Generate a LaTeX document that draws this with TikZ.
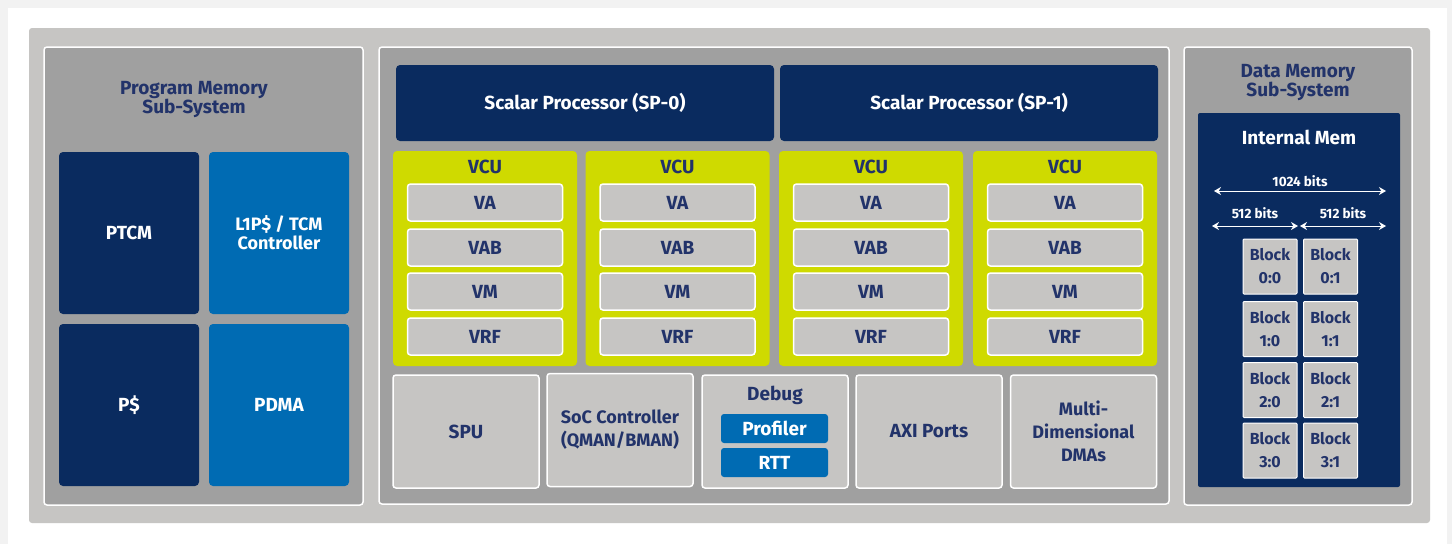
\documentclass[tikz,border=0pt]{standalone}
\usepackage{fontspec}
\setmainfont{Fira Sans}
\usetikzlibrary{arrows.meta}

\definecolor{outergray}{HTML}{C6C5C3}
\definecolor{panelgray}{HTML}{A0A0A0}
\definecolor{navy}{HTML}{0A2B5F}
\definecolor{ceblue}{HTML}{006BB3}
\definecolor{lime}{HTML}{CFDA00}
\definecolor{ink}{HTML}{22336A}

\begin{document}
\begin{tikzpicture}
	[x=1pt,y=-1pt,
		every node/.style={font=\fontsize{19}{20}\selectfont\bfseries,align=center,inner sep=0pt,text=ink},
		panel/.style={draw=white,line width=1.5pt,fill=panelgray,rounded corners=3pt},
		dark box/.style={fill=navy,text=white,rounded corners=4pt},
		blue box/.style={fill=ceblue,text=white,rounded corners=4pt},
		vcu box/.style={fill=lime,rounded corners=4pt,minimum width=184pt,minimum height=215pt},
		unit box/.style={draw=white,line width=1.5pt,fill=outergray,rounded corners=3pt},
		block/.style={draw=white,line width=1pt,fill=outergray,rounded corners=1pt,minimum width=54pt,minimum height=55pt,font=\fontsize{16}{23}\selectfont\bfseries},
		bits/.style={white,line width=1pt,{Stealth[length=7pt,width=8pt]}-{Stealth[length=7pt,width=8pt]}},
		bits label/.style={text=white,font=\fontsize{13.5}{15}\selectfont\bfseries},
		two lines/.style={font=\fontsize{18}{23}\selectfont\bfseries}]

	\useasboundingbox (0,0) rectangle (1452,544);
	\fill[black!5] (0,0) rectangle (1452,544);
	\fill[white] (8,8) rectangle (1447,544);
	\fill[outergray,rounded corners=3pt] (29,28) rectangle (1430,523);

	% the three sub-systems
	\node[panel,minimum width=319pt,minimum height=458pt] (pm) at (203.5,276) {};
	\node[panel,minimum width=790pt,minimum height=457pt] (core) at (774,275.5) {};
	\node[panel,minimum width=228pt,minimum height=458pt] (dm) at (1298,276) {};

	% program memory
	\node[font=\fontsize{19}{19}\selectfont\bfseries] (pmtitle) at (194,99.5) {Program Memory\\Sub-System};
	\node[dark box,minimum width=140pt,minimum height=162pt] (ptcm) at (129,233) {PTCM};
	\node[blue box,minimum width=140pt,minimum height=162pt,font=\fontsize{18}{19}\selectfont\bfseries] (l1p) at (279,233) {L1P\$ / TCM\\Controller};
	\node[dark box,minimum width=140pt,minimum height=162pt] (pcache) at (129,405) {P\$};
	\node[blue box,minimum width=140pt,minimum height=162pt] (pdma) at (279,405) {PDMA};

	% scalar processors and vector units
	\node[dark box,minimum width=378pt,minimum height=76pt] (sp0) at (585,103) {Scalar Processor (SP-0)};
	\node[dark box,minimum width=378pt,minimum height=76pt] (sp1) at (969,103) {Scalar Processor (SP-1)};

	\foreach \x/\n in {485/0,677.5/1,871/2,1065/3} {
		\node[vcu box] (vcu\n) at (\x,258.5) {};
		\node (vcutitle\n) at (\x,167) {VCU};
		\node[unit box,minimum width=155pt,minimum height=37pt] (va\n) at (\x,202.5) {VA};
		\node[unit box,minimum width=155pt,minimum height=37pt] (vab\n) at (\x,247.5) {VAB};
		\node[unit box,minimum width=155pt,minimum height=37pt] (vm\n) at (\x,291.5) {VM};
		\node[unit box,minimum width=155pt,minimum height=37pt] (vrf\n) at (\x,336.5) {VRF};
	}

	% bottom row
	\node[unit box,minimum width=146pt,minimum height=113pt] (spu) at (466,431.5) {SPU};
	\node[unit box,minimum width=146pt,minimum height=113pt,two lines] (soc) at (620,430) {SoC Controller\\(QMAN/BMAN)};
	\node[unit box,minimum width=146pt,minimum height=113pt] (debug) at (775,431.5) {};
	\node (debugtitle) at (775,395) {Debug};
	\node[blue box,rounded corners=3pt,minimum width=107pt,minimum height=29pt] (profiler) at (774.5,428.5) {Profiler};
	\node[blue box,rounded corners=3pt,minimum width=107pt,minimum height=29pt] (rtt) at (774.5,462.5) {RTT};
	\node[unit box,minimum width=146pt,minimum height=113pt] (axi) at (929,431.5) {AXI Ports};
	\node[unit box,minimum width=146pt,minimum height=113pt,two lines] (mdma) at (1083.5,431.5) {Multi-\\Dimensional\\DMAs};

	% data memory
	\node[font=\fontsize{19}{19}\selectfont\bfseries] (dmtitle) at (1298,82.5) {Data Memory\\Sub-System};
	\node[fill=navy,rounded corners=2pt,minimum width=202pt,minimum height=374pt] (imem) at (1299,300) {};
	\node[text=white] (imemtitle) at (1299,137) {Internal Mem};

	\coordinate (w0) at (1214,191);
	\coordinate (w1) at (1386,191);
	\coordinate (h0) at (1212,226);
	\coordinate (h1) at (1298,226);
	\coordinate (h2) at (1300,226);
	\coordinate (h3) at (1386,226);
	\draw[bits] (w0) -- node[bits label,above=4pt] {1024 bits} (w1);
	\draw[bits] (h0) -- node[bits label,above=7pt] {512 bits} (h1);
	\draw[bits] (h2) -- node[bits label,above=7pt] {512 bits} (h3);

	\foreach \r/\y in {0/266.5,1/329,2/390,3/450.5}
		\foreach \c/\x in {0/1270,1/1330.5}
			\node[block] (blk\r\c) at (\x,\y) {Block\\\r:\c};

\end{tikzpicture}
\end{document}
